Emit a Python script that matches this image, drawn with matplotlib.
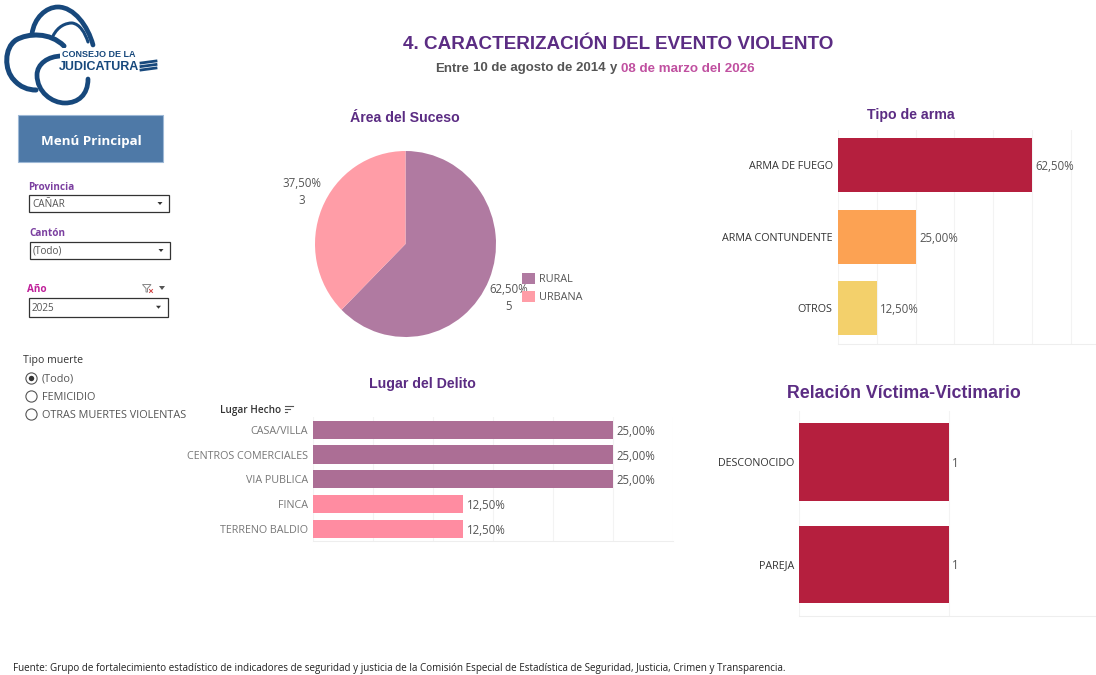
import matplotlib
matplotlib.use("Agg")
import matplotlib.pyplot as plt
from matplotlib.patches import Rectangle, Circle, Polygon, PathPatch
from matplotlib.path import Path

W, H = 1096, 675

# ---------- data ----------
area_labels = ["RURAL", "URBANA"]
area_counts = [5, 3]
area_pct = ["62,50%", "37,50%"]
area_colors = ["#B07AA1", "#FF9DA7"]

arma_labels = ["ARMA DE FUEGO", "ARMA CONTUNDENTE", "OTROS"]
arma_values = [62.5, 25.0, 12.5]
arma_colors = ["#B51F3E", "#FCA253", "#F3D06B"]

lugar_labels = ["CASA/VILLA", "CENTROS COMERCIALES", "VIA PUBLICA", "FINCA", "TERRENO BALDIO"]
lugar_values = [25.0, 25.0, 25.0, 12.5, 12.5]
lugar_colors = ["#AC6E95", "#AC6E95", "#AC6E95", "#FF8CA1", "#FF8CA1"]

relacion_labels = ["DESCONOCIDO", "PAREJA"]
relacion_values = [1, 1]
relacion_color = "#B51F3E"

PURPLE = "#5B2C83"
GREY = "#555555"
DARK = "#333333"
BODY = "Open Sans"
HEAD = "Liberation Sans"

fig = plt.figure(figsize=(W / 100, H / 100), dpi=100, facecolor="white")


def axes_px(x0, y0, x1, y1, **kw):
    return fig.add_axes([x0 / W, 1 - y1 / H, (x1 - x0) / W, (y1 - y0) / H], **kw)


# overlay in pixel coordinates for page furniture
pg = fig.add_axes([0, 0, 1, 1], zorder=0)
pg.set_xlim(0, W)
pg.set_ylim(H, 0)
pg.axis("off")


def txt(x, y, s, size=8.0, color=GREY, ha="left", va="center", weight="normal", family=BODY, **kw):
    return pg.text(x, y, s, fontsize=size, color=color, ha=ha, va=va, fontweight=weight, family=family, **kw)


# ---------- logo ----------
LOGO = "#17487C"
C4 = Path.CURVE4
logo_strokes = [
    ([(32, 34), (34, 18), (46, 7), (58, 7), (74, 7), (88, 26), (93, 45)], 3.4),
    ([(53, 36), (58, 26), (66, 23), (72, 23), (80, 24), (85, 33), (88, 42)], 2.2),
    ([(64, 46), (50, 32), (28, 33), (16, 40), (4, 48), (4, 70), (14, 80), (20, 87), (28, 90), (36, 90)], 3.6),
    ([(62, 56), (48, 56), (37, 64), (37, 75), (37, 92), (52, 103), (65, 103), (78, 103), (88, 95), (88, 79)], 3.4),
]
for pts, lw in logo_strokes:
    codes = [Path.MOVETO] + [C4] * (len(pts) - 1)
    pg.add_patch(PathPatch(Path(pts, codes), fc="none", ec=LOGO, lw=lw, capstyle="round"))
pg.add_patch(Rectangle((60, 48), 78, 27, fc="white", ec="none", zorder=2))
txt(62.5, 54.5, "CONSEJO DE LA", size=6.5, color=LOGO, weight="bold", family=HEAD, zorder=3)
txt(58.5, 67.5, "JUDICATURA", size=9.0, color=LOGO, weight="bold", family=HEAD, zorder=3)
for yy in (62, 65.5, 69):
    pg.plot([141, 156], [yy + 1, yy - 1], color=LOGO, lw=2.0, zorder=3)

# ---------- titles ----------
txt(618.5, 49, "4. CARACTERIZACIÓN DEL EVENTO VIOLENTO", size=13.6, color=PURPLE, ha="center", va="baseline", weight="bold", family=HEAD)
txt(435, 71.5, "Entre", size=9.5, color=GREY, va="baseline", weight="bold", family=HEAD)
txt(473, 71.5, "10 de agosto de 2014", size=9.5, color=GREY, va="baseline", weight="bold", family=HEAD)
txt(610, 71.5, "y", size=9.5, color=GREY, va="baseline", weight="bold", family=HEAD)
txt(621, 71.5, "08 de marzo del 2026", size=9.6, color="#C050A0", va="baseline", weight="bold", family=HEAD)

txt(405, 118, "Área del Suceso", size=10.2, color=PURPLE, ha="center", weight="bold", family=HEAD)
txt(911, 115, "Tipo de arma", size=10.2, color=PURPLE, ha="center", weight="bold", family=HEAD)
txt(422, 384, "Lugar del Delito", size=10.2, color=PURPLE, ha="center", weight="bold", family=HEAD)
txt(903.5, 393, "Relación Víctima-Victimario", size=12.8, color=PURPLE, ha="center", weight="bold", family=HEAD)

# ---------- left panel ----------
pg.add_patch(Rectangle((18, 115), 145, 47, fc="#4E79A7", ec="#9DB8D6", lw=0.8))
txt(91, 141, "Menú Principal", size=9.6, color="white", ha="center", weight="bold")


def dropdown(label, label_color, lx, ly, x0, y0, x1, y1, value):
    txt(lx, ly, label, size=7.2, color=label_color, weight="bold")
    pg.add_patch(Rectangle((x0, y0), x1 - x0, y1 - y0, fc="white", ec="#333333", lw=0.9))
    txt(x0 + 3, (y0 + y1) / 2 + 0.8, value, size=7.2, color=GREY)
    xc = x1 - 9
    yc = (y0 + y1) / 2
    pg.add_patch(Polygon([(xc - 2.5, yc - 1.5), (xc + 2.5, yc - 1.5), (xc, yc + 1.5)], fc="#333333", ec="none"))


dropdown("Provincia", "#7B3FA0", 28, 187, 29, 195, 169, 212, "CAÑAR")
dropdown("Cantón", "#7B3FA0", 29, 233.5, 30, 242, 170, 259, "(Todo)")
dropdown("Año", "#C0209A", 27, 289.5, 29, 298, 167.5, 316.5, "2025")
# clear-filter icon and menu arrow next to "Año"
pg.add_patch(Polygon([(142.5, 284.5), (151, 284.5), (147.5, 288.5), (147.5, 292), (146, 292), (146, 288.5)], fc="white", ec="#888888", lw=0.7))
pg.plot([149.5, 152.5], [289.5, 292.5], color="#D04040", lw=0.7)
pg.plot([152.5, 149.5], [289.5, 292.5], color="#D04040", lw=0.7)
pg.add_patch(Polygon([(159, 286), (165, 286), (162, 290)], fc="#555555", ec="none"))

txt(23, 360.5, "Tipo muerte", size=7.6, color=DARK)
radio_labels = ["(Todo)", "FEMICIDIO", "OTRAS MUERTES VIOLENTAS"]
for i, (yy, lab) in enumerate(zip([378.5, 396.5, 414.5], radio_labels)):
    pg.add_patch(Circle((31.5, yy), 5.6, fc="white", ec="#555555", lw=0.8))
    if i == 0:
        pg.add_patch(Circle((31.5, yy), 2.7, fc="#333333", ec="none"))
    txt(42, yy + 0.5, lab, size=7.8, color=GREY)

# ---------- pie ----------
ax_pie = axes_px(315, 151, 496, 337)
wedges, _ = ax_pie.pie(area_counts, colors=area_colors, startangle=90, counterclock=False, radius=1)
ax_pie.set_aspect("auto")
ax_pie.set_xlim(-1, 1)
ax_pie.set_ylim(-1, 1)
ax_pie.patch.set_visible(False)

txt(301.5, 183.5, area_pct[1], size=8.3, ha="center")
txt(301.5, 200.5, str(area_counts[1]), size=8.3, ha="center")
txt(509, 289.5, area_pct[0], size=8.3, ha="center")
txt(509, 306.5, str(area_counts[0]), size=8.3, ha="center")

ax_leg = axes_px(517, 268, 600, 310, zorder=5)
ax_leg.axis("off")
ax_leg.legend(wedges, area_labels, loc="upper left", bbox_to_anchor=(0, 1), frameon=False, borderpad=0.45,
              borderaxespad=0, handlelength=1.2, handleheight=1.2, handletextpad=0.38,
              labelspacing=0.52, labelcolor=GREY, prop={"family": BODY, "size": 7.8})


def style_bar(ax, labels):
    for s in ("top", "right", "left"):
        ax.spines[s].set_visible(False)
    ax.spines["bottom"].set_color("#EEEEEE")
    ax.spines["bottom"].set_linewidth(0.8)
    ax.grid(axis="x", color="#F3F3F3", lw=0.8)
    ax.set_axisbelow(True)
    ax.tick_params(axis="both", length=0)
    ax.set_xticklabels([])
    ax.set_yticks(range(len(labels)))
    ax.set_yticklabels(labels, fontsize=7.75, color=GREY, family=BODY)
    ax.tick_params(axis="y", pad=3.6)
    ax.patch.set_visible(False)


def pct(v):
    return f"{v:.2f}%".replace(".", ",")


# ---------- Tipo de arma ----------
ax_a = axes_px(837.7, 129.5, 1096, 344)
ax_a.barh(range(len(arma_labels)), arma_values, height=0.755, color=arma_colors)
ax_a.set_xlim(0, 258.3 / 3.113)
ax_a.set_ylim(len(arma_labels) - 0.5, -0.5)
ax_a.set_xticks([12.5 * k for k in range(7)])
style_bar(ax_a, arma_labels)
ax_a.tick_params(axis="y", labelcolor=DARK)
for i, v in enumerate(arma_values):
    ax_a.annotate(pct(v), (v, i), xytext=(2.6, -1), textcoords="offset points",
                  va="center", fontsize=8.3, color=GREY, family=BODY)

# ---------- Lugar del Delito ----------
ax_l = axes_px(313, 417.5, 673, 541)
ax_l.barh(range(len(lugar_labels)), lugar_values, height=0.74, color=lugar_colors)
ax_l.set_xlim(0, 30)
ax_l.set_ylim(len(lugar_labels) - 0.5, -0.5)
ax_l.set_xticks([5 * k for k in range(7)])
style_bar(ax_l, lugar_labels)
ax_l.tick_params(axis="y", labelcolor="#777777")
for i, v in enumerate(lugar_values):
    ax_l.annotate(pct(v), (v, i), xytext=(2.8, -1.2), textcoords="offset points",
                  va="center", fontsize=8.3, color=GREY, family=BODY)
txt(220, 410, "Lugar Hecho", size=7.2, color=DARK, weight="semibold")
for yy, xe in [(405.5, 293), (408.5, 290), (411.5, 287)]:
    pg.plot([285, xe], [yy, yy], color="#555555", lw=0.8)

# ---------- Relación Víctima-Victimario ----------
ax_r = axes_px(799, 411, 1096, 615.5)
ax_r.barh(range(len(relacion_labels)), relacion_values, height=0.76, color=relacion_color)
ax_r.set_xlim(0, 297 / 149.7)
ax_r.set_ylim(len(relacion_labels) - 0.5, -0.5)
ax_r.set_xticks([0, 1])
style_bar(ax_r, relacion_labels)
ax_r.tick_params(axis="y", labelcolor=DARK)
for i, v in enumerate(relacion_values):
    ax_r.annotate(str(v), (v, i), xytext=(2.3, -1), textcoords="offset points",
                  va="center", fontsize=8.3, color=GREY, family=BODY)

# ---------- footer ----------
txt(13, 668.5, "Fuente: Grupo de fortalecimiento estadístico de indicadores de seguridad y justicia de la "
               "Comisión Especial de Estadística de Seguridad, Justicia, Crimen y Transparencia.",
    size=7.08, color="#222222")

fig.savefig("out.png", dpi=100, facecolor="white")
